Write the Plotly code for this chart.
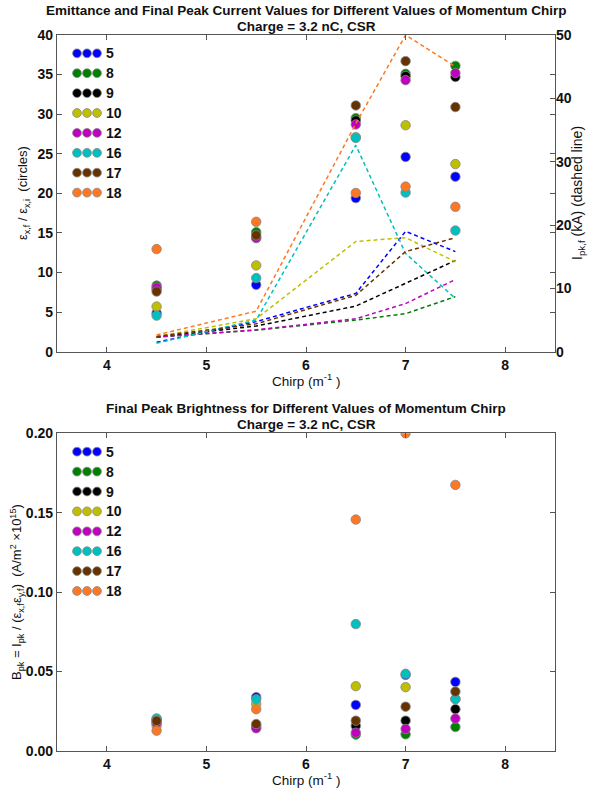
import plotly.graph_objects as go

# ---------------- data ----------------
chirp = [4.5, 5.5, 6.5, 7.0, 7.5]
series_labels = ['5', '8', '9', '10', '12', '16', '17', '18']
series_colors = ['#0000ff', '#008000', '#000000', '#bfbf00', '#bf00bf', '#00bfbf', '#663300', '#ff7722']

# emittance ratio (circles, left axis, top)
emit_5 = [4.86, 8.45, 19.4, 24.6, 22.1]
emit_8 = [8.35, 15.1, 29.5, 35.1, 36.1]
emit_9 = [7.9, 14.35, 29.2, 34.8, 34.7]
emit_10 = [5.7, 10.9, 27.1, 28.6, 23.7]
emit_12 = [8.1, 14.4, 28.7, 34.3, 35.2]
emit_16 = [4.56, 9.3, 27.0, 20.1, 15.3]
emit_17 = [7.6, 14.7, 31.1, 36.7, 30.9]
emit_18 = [12.96, 16.4, 20.05, 20.85, 18.3]

# final peak current kA (dashed, right axis, top)
cur_5 = [1.5, 4.75, 9.2, 19.0, 15.8]
cur_8 = [2.3, 3.4, 5.0, 6.0, 8.7]
cur_9 = [2.3, 4.05, 7.2, 10.8, 14.4]
cur_10 = [2.4, 5.2, 17.4, 18.0, 14.2]
cur_12 = [2.3, 3.45, 5.2, 7.6, 11.4]
cur_16 = [1.35, 5.0, 32.6, 15.5, 8.4]
cur_17 = [2.4, 4.4, 8.9, 15.8, 18.0]
cur_18 = [2.65, 6.4, 36.0, 50.0, 45.0]

# final peak brightness (bottom)
bright_5 = [0.0200, 0.0339, 0.0290, 0.0479, 0.0435]
bright_8 = [0.0195, 0.0150, 0.0103, 0.0105, 0.0151]
bright_9 = [0.0180, 0.0160, 0.0158, 0.0191, 0.0263]
bright_10 = [0.0160, 0.0296, 0.0408, 0.0402, 0.0328]
bright_12 = [0.0175, 0.0143, 0.0115, 0.0139, 0.0204]
bright_16 = [0.0205, 0.0326, 0.0799, 0.0486, 0.0326]
bright_17 = [0.0190, 0.0170, 0.0191, 0.0279, 0.0374]
bright_18 = [0.0128, 0.0263, 0.1457, 0.2000, 0.1675]

emit_all = [emit_5, emit_8, emit_9, emit_10, emit_12, emit_16, emit_17, emit_18]
cur_all = [cur_5, cur_8, cur_9, cur_10, cur_12, cur_16, cur_17, cur_18]
bright_all = [bright_5, bright_8, bright_9, bright_10, bright_12, bright_16, bright_17, bright_18]

# ---------------- layout geometry ----------------
W, H = 589, 790
ML, MR, MT, MB = 57, 34, 35, 39
PW, PH = W - ML - MR, H - MT - MB
TOP_BOTTOM_PX = 351.7
BOT_TOP_PX = 433.3


def px_x(px):
    return (px - ML) / PW


def px_y(py):
    return (H - MB - py) / PH


FONT = 'Liberation Sans, Arial, sans-serif'
EDGE = '#555555'

fig = go.Figure()

for lab, col, cur in zip(series_labels, series_colors, cur_all):
    fig.add_trace(go.Scatter(x=chirp, y=cur, mode='lines', xaxis='x', yaxis='y3',
                             line=dict(color=col, width=1.5, dash='4px,3px'),
                             showlegend=False, hoverinfo='skip'))

for lab, col, em in zip(series_labels, series_colors, emit_all):
    fig.add_trace(go.Scatter(x=chirp, y=em, mode='markers', xaxis='x', yaxis='y',
                             marker=dict(color=col, size=9.5, line=dict(color='#888888', width=0.8)),
                             name=lab, showlegend=False))

for lab, col, br in zip(series_labels, series_colors, bright_all):
    fig.add_trace(go.Scatter(x=chirp, y=br, mode='markers', xaxis='x2', yaxis='y2',
                             marker=dict(color=col, size=9.5, line=dict(color='#888888', width=0.8)),
                             name=lab, showlegend=False))

tickfont = dict(family=FONT, size=14, color='#111111')
common_x = dict(range=[3.5, 8.5], dtick=1, tick0=4, showgrid=False, zeroline=False,
                showline=True, linecolor=EDGE, linewidth=1.2, mirror='ticks',
                ticks='inside', ticklen=5, tickcolor=EDGE, automargin=False,
                tickfont=tickfont, tickprefix='<b>', ticksuffix='</b>')
common_y = dict(showgrid=False, zeroline=False, showline=True, linecolor=EDGE, linewidth=1.2,
                mirror='ticks', ticks='inside', ticklen=5, tickcolor=EDGE, automargin=False,
                tickfont=tickfont, tickprefix='<b>', ticksuffix='</b>')

shapes = []
annotations = []

top_dom = [px_y(TOP_BOTTOM_PX), 1.0]
bot_dom = [0.0, px_y(BOT_TOP_PX)]

fig.update_layout(
    width=W, height=H,
    margin=dict(l=ML, r=MR, t=MT, b=MB, autoexpand=False),
    paper_bgcolor='white', plot_bgcolor='white',
    font=dict(family=FONT, size=13, color='#111111'),
    showlegend=False,
    xaxis=dict(common_x, anchor='y', domain=[0, 1]),
    yaxis=dict(common_y, domain=top_dom, anchor='x', range=[0, 40], dtick=5),
    yaxis3=dict(overlaying='y', side='right', anchor='x', range=[0, 50], dtick=10,
                showgrid=False, zeroline=False, showline=False, ticks='inside', ticklen=5,
                tickcolor=EDGE, tickfont=tickfont, tickprefix='<b>', ticksuffix='</b>',
                automargin=False),
    xaxis2=dict(common_x, anchor='y2', domain=[0, 1]),
    yaxis2=dict(common_y, domain=bot_dom, anchor='x2', range=[0, 0.2], dtick=0.05, tickformat='.2f'),
)


def text_at(text, px, py, size=14, angle=0):
    annotations.append(dict(text=text, xref='paper', yref='paper',
                            x=px_x(px), y=px_y(py), xanchor='center', yanchor='middle',
                            showarrow=False, borderpad=0, textangle=angle,
                            font=dict(family=FONT, size=size, color='#111111')))


# titles
text_at('<b>Emittance and Final Peak Current Values for Different Values of Momentum Chirp</b>', 306, 10.5, 13.5)
text_at('<b>Charge = 3.2 nC, CSR</b>', 306, 26.5, 13.5)
text_at('<b>Final Peak Brightness for Different Values of Momentum Chirp</b>', 306, 408.5, 13.5)
text_at('<b>Charge = 3.2 nC, CSR</b>', 306, 424.5, 13.5)

# axis titles
text_at('Chirp (m<sup>-1</sup> )', 306, 380, 13.5)
text_at('Chirp (m<sup>-1</sup> )', 306, 779, 13.5)
text_at('ε<sub>x,f</sub> / ε<sub>x,i</sub>  (circles)', 24, 193, 13, -90)
text_at('I<sub>pk,f</sub> (kA) (dashed line)', 578, 193, 14, -90)
text_at('B<sub>pk</sub> = I<sub>pk</sub> / (ε<sub>x,f</sub>ε<sub>y,f</sub>)  (A/m<sup>2</sup> ×10<sup>15</sup>)',
        17, 592, 13, -90)

# legends (three dots + label), drawn in each panel
for row0 in (53.3, 451.7):
    for i, (lab, col) in enumerate(zip(series_labels, series_colors)):
        py = row0 + i * 19.9
        for dx in (0, 10, 20):
            shapes.append(dict(type='circle', xref='paper', yref='paper',
                               xsizemode='pixel', ysizemode='pixel',
                               xanchor=px_x(77 + dx), yanchor=px_y(py),
                               x0=-4.4, x1=4.4, y0=-4.4, y1=4.4,
                               fillcolor=col, line=dict(color='#888888', width=0.8)))
        annotations.append(dict(text='<b>' + lab + '</b>', xref='paper', yref='paper',
                                x=px_x(104), y=px_y(py), xanchor='left', yanchor='middle',
                                showarrow=False, font=dict(family=FONT, size=14, color='#111111')))

fig.update_layout(shapes=shapes, annotations=annotations)

fig.write_html('out.html')
